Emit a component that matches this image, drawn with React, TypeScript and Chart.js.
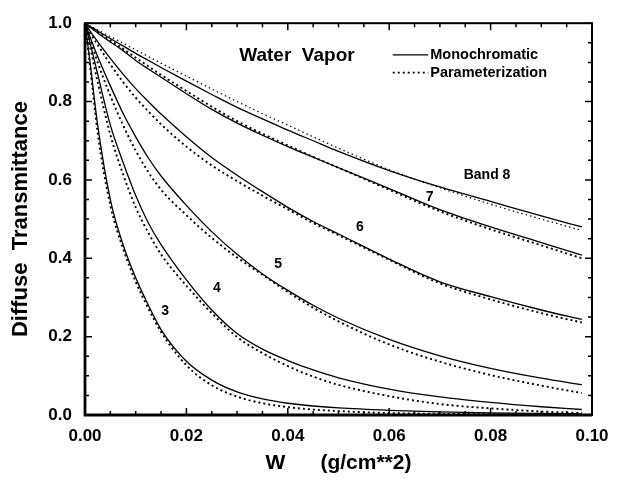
import React, { useEffect, useRef } from "react";
import { Chart, registerables } from "chart.js";
Chart.register(...registerables);

// Water vapour amount W (g/cm**2)
const W = [0, 0.001, 0.0025, 0.005, 0.0075, 0.01, 0.0125, 0.015, 0.02, 0.025, 0.03, 0.035, 0.04, 0.045, 0.05, 0.06, 0.07, 0.08, 0.09, 0.098];

const bands = ["3", "4", "5", "6", "7", "8"];

const band3Mono = [1, 0.9, 0.74, 0.55, 0.435, 0.35, 0.28, 0.218, 0.137, 0.089, 0.059, 0.041, 0.03, 0.023, 0.018, 0.012, 0.008, 0.0055, 0.004, 0.003];
const band3Param = [1, 0.89, 0.72, 0.535, 0.425, 0.34, 0.272, 0.212, 0.127, 0.076, 0.047, 0.03, 0.02, 0.014, 0.01, 0.005, 0.003, 0.002, 0.001, 0.001];

const band4Mono = [1, 0.95, 0.87, 0.74, 0.645, 0.56, 0.49, 0.435, 0.345, 0.268, 0.208, 0.168, 0.139, 0.115, 0.095, 0.066, 0.046, 0.032, 0.021, 0.014];
const band4Param = [1, 0.94, 0.85, 0.715, 0.615, 0.53, 0.465, 0.41, 0.33, 0.26, 0.199, 0.158, 0.125, 0.098, 0.077, 0.048, 0.028, 0.017, 0.009, 0.005];

const band5Mono = [1, 0.965, 0.915, 0.84, 0.77, 0.71, 0.656, 0.61, 0.535, 0.468, 0.41, 0.36, 0.318, 0.28, 0.247, 0.193, 0.151, 0.119, 0.094, 0.0775];
const band5Param = [1, 0.96, 0.9, 0.815, 0.74, 0.675, 0.62, 0.575, 0.51, 0.452, 0.402, 0.358, 0.314, 0.274, 0.239, 0.18, 0.136, 0.102, 0.075, 0.056];

const band6Mono = [1, 0.98, 0.953, 0.91, 0.87, 0.833, 0.8, 0.768, 0.71, 0.657, 0.612, 0.57, 0.53, 0.494, 0.462, 0.398, 0.34, 0.302, 0.268, 0.244];
const band6Param = [1, 0.975, 0.945, 0.895, 0.85, 0.81, 0.775, 0.742, 0.685, 0.637, 0.597, 0.56, 0.525, 0.49, 0.459, 0.396, 0.336, 0.295, 0.26, 0.236];

const band7Mono = [1, 0.99, 0.975, 0.952, 0.93, 0.905, 0.883, 0.862, 0.82, 0.78, 0.745, 0.714, 0.685, 0.658, 0.631, 0.578, 0.524, 0.48, 0.44, 0.408];
const band7Param = [1, 0.99, 0.977, 0.956, 0.935, 0.912, 0.89, 0.868, 0.827, 0.787, 0.75, 0.718, 0.688, 0.659, 0.631, 0.575, 0.52, 0.474, 0.433, 0.4];

const band8Mono = [1, 0.992, 0.98, 0.961, 0.942, 0.923, 0.905, 0.887, 0.852, 0.818, 0.785, 0.756, 0.727, 0.7, 0.673, 0.624, 0.582, 0.545, 0.508, 0.48];
const band8Param = [1, 0.993, 0.983, 0.966, 0.949, 0.932, 0.915, 0.898, 0.865, 0.832, 0.8, 0.769, 0.74, 0.71, 0.681, 0.626, 0.58, 0.538, 0.5, 0.471];

const monoSeries = [band3Mono, band4Mono, band5Mono, band6Mono, band7Mono, band8Mono];
const paramSeries = [band3Param, band4Param, band5Param, band6Param, band7Param, band8Param];

// curve labels (data coordinates)
const labelText = ["3", "4", "5", "6", "7", "Band 8"];
const labelW = [0.0158, 0.026, 0.0381, 0.0542, 0.068, 0.0793];
const labelT = [0.265, 0.323, 0.386, 0.48, 0.556, 0.611];

const xTickStep = 0.02;
const yTickStep = 0.2;
const xMinorStep = 0.005;
const yMinorStep = 0.05;

const FONT = "'Liberation Sans', Arial, Helvetica, sans-serif";

const decorPlugin = {
  id: "decor",
  afterDraw(chart: any) {
    const { ctx, chartArea: a, scales } = chart;
    const x = scales.x;
    const y = scales.y;
    ctx.save();
    ctx.strokeStyle = "#000";
    ctx.fillStyle = "#000";
    // frame
    ctx.lineWidth = 2;
    ctx.strokeRect(a.left, a.top, a.right - a.left, a.bottom - a.top);
    ctx.lineWidth = 2.8;
    ctx.beginPath();
    ctx.moveTo(a.left, a.top);
    ctx.lineTo(a.left, a.bottom);
    ctx.lineTo(a.right, a.bottom);
    ctx.stroke();
    // inward ticks
    ctx.lineWidth = 1.5;
    const nx = Math.round((x.max - x.min) / xMinorStep);
    const perMajorX = Math.round(xTickStep / xMinorStep);
    for (let i = 0; i <= nx; i++) {
      const px = x.getPixelForValue(x.min + i * xMinorStep);
      const len = i % perMajorX === 0 ? 7 : 4;
      ctx.beginPath();
      ctx.moveTo(px, a.bottom);
      ctx.lineTo(px, a.bottom - len);
      ctx.moveTo(px, a.top);
      ctx.lineTo(px, a.top + len);
      ctx.stroke();
    }
    const ny = Math.round((y.max - y.min) / yMinorStep);
    const perMajorY = Math.round(yTickStep / yMinorStep);
    for (let i = 0; i <= ny; i++) {
      const py = y.getPixelForValue(y.min + i * yMinorStep);
      const len = i % perMajorY === 0 ? 7 : 4;
      ctx.beginPath();
      ctx.moveTo(a.left, py);
      ctx.lineTo(a.left + len, py);
      ctx.moveTo(a.right, py);
      ctx.lineTo(a.right - len, py);
      ctx.stroke();
    }
    // curve labels
    ctx.font = `bold 14px ${FONT}`;
    ctx.textAlign = "center";
    ctx.textBaseline = "middle";
    labelText.forEach((t, i) => {
      ctx.fillText(t, x.getPixelForValue(labelW[i]), y.getPixelForValue(labelT[i]));
    });
    // title inside
    ctx.font = `bold 19px ${FONT}`;
    ctx.fillText("Water  Vapor", x.getPixelForValue(0.0418), y.getPixelForValue(0.917));
    // legend
    const lx0 = x.getPixelForValue(0.0607);
    const lx1 = x.getPixelForValue(0.0677);
    const ly0 = y.getPixelForValue(0.919);
    const ly1 = y.getPixelForValue(0.874);
    ctx.lineWidth = 1.3;
    ctx.beginPath();
    ctx.moveTo(lx0, ly0);
    ctx.lineTo(lx1, ly0);
    ctx.stroke();
    ctx.setLineDash([2, 3]);
    ctx.lineWidth = 1.8;
    ctx.beginPath();
    ctx.moveTo(lx0, ly1);
    ctx.lineTo(lx1, ly1);
    ctx.stroke();
    ctx.setLineDash([]);
    ctx.font = `bold 14.5px ${FONT}`;
    ctx.textAlign = "left";
    ctx.fillText("Monochromatic", lx1 + 2, ly0);
    ctx.fillText("Parameterization", lx1 + 2, ly1);
    ctx.restore();
  },
};

export default function App() {
  const ref = useRef<HTMLCanvasElement | null>(null);
  useEffect(() => {
    document.body.style.margin = "0";
    const canvas = ref.current;
    if (!canvas) return;
    const datasets: any[] = [];
    bands.forEach((b, i) => {
      datasets.push({
        label: `Band ${b} monochromatic`,
        data: W.map((w, k) => ({ x: w, y: monoSeries[i][k] })),
        borderColor: "#000",
        borderWidth: 1.3,
        pointRadius: 0,
        fill: false,
        cubicInterpolationMode: "monotone",
      });
      datasets.push({
        label: `Band ${b} parameterization`,
        data: W.map((w, k) => ({ x: w, y: paramSeries[i][k] })),
        borderColor: "#000",
        borderWidth: b === "8" ? 1.2 : 1.9,
        borderDash: b === "8" ? [1.5, 3] : [2, 3],
        pointRadius: 0,
        fill: false,
        cubicInterpolationMode: "monotone",
      });
    });
    const chart = new Chart(canvas, {
      type: "line",
      data: { datasets },
      options: {
        responsive: false,
        animation: false,
        devicePixelRatio: 1,
        layout: { padding: { left: 0, right: 31, top: 19, bottom: 0 } },
        plugins: { legend: { display: false }, tooltip: { enabled: false } },
        scales: {
          x: {
            type: "linear",
            min: 0,
            max: 0.1,
            grid: { display: false, drawTicks: false },
            border: { display: false },
            ticks: {
              stepSize: xTickStep,
              padding: 11,
              color: "#000",
              maxRotation: 0,
              autoSkip: false,
              font: { family: FONT, size: 17, weight: "bold" },
              callback: (v: any) => Number(v).toFixed(2),
            },
            title: {
              display: true,
              text: "W      (g/cm**2)",
              color: "#000",
              font: { family: FONT, size: 21, weight: "bold" },
              padding: { top: 0, bottom: 4 },
            },
            afterFit: (s: any) => {
              s.height = 65;
            },
          },
          y: {
            type: "linear",
            min: 0,
            max: 1,
            grid: { display: false, drawTicks: false },
            border: { display: false },
            ticks: {
              stepSize: yTickStep,
              padding: 13,
              color: "#000",
              font: { family: FONT, size: 17, weight: "bold" },
              callback: (v: any) => Number(v).toFixed(1),
            },
            title: {
              display: true,
              text: "Diffuse  Transmittance",
              color: "#000",
              font: { family: FONT, size: 22, weight: "bold" },
              padding: { top: 8, bottom: 0 },
            },
            afterFit: (s: any) => {
              s.width = 85;
            },
          },
        },
      },
      plugins: [decorPlugin],
    } as any);
    return () => chart.destroy();
  }, []);
  return (
    <div style={{ width: 623, height: 480, background: "#fff" }}>
      <canvas ref={ref} width={623} height={480} style={{ display: "block" }} />
    </div>
  );
}
